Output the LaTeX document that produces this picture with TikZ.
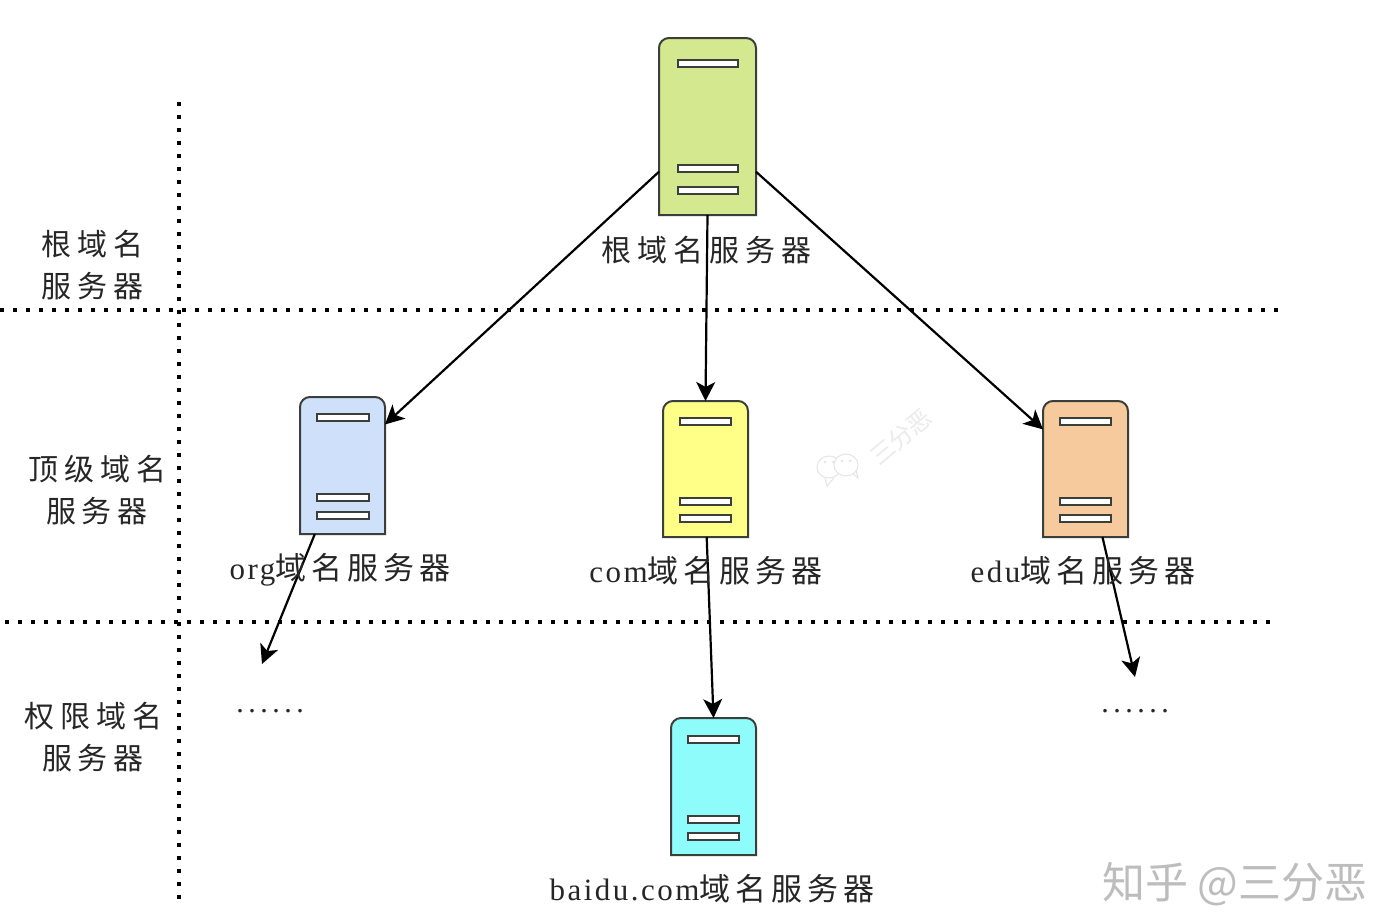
\documentclass[tikz,border=0pt]{standalone}
\usepackage{fontspec}
\setmainfont[LetterSpace=8]{Liberation Serif}
\newfontfamily\cjk[LetterSpace=20]{Noto Sans CJK SC}
\newfontfamily\cjkb[LetterSpace=16]{Noto Sans CJK SC}
\newfontfamily\wmfont{Noto Sans CJK SC}
\newfontfamily\dotfont[LetterSpace=15]{Liberation Serif}
\usetikzlibrary{arrows.meta}
\definecolor{edgeC}{HTML}{3A3F3A}
\definecolor{rootC}{HTML}{D4E890}
\definecolor{orgC}{HTML}{CFE0FA}
\definecolor{comC}{HTML}{FFFF88}
\definecolor{eduC}{HTML}{F6CA9C}
\definecolor{baiduC}{HTML}{8FFCFC}
\tikzset{
 x=1pt,y=-1pt,
 bodybox/.style={inner sep=0pt,outer sep=0pt,draw=none,rectangle},
 srvline/.style={draw=edgeC,line width=2pt},
 link/.style={draw=black,line width=2.2pt,-{Stealth[length=19pt,width=19pt,inset=5pt]}},
 sep/.style={draw=black,line width=3.6pt,dash pattern=on 3.6pt off 9.4pt},
 label/.style={inner sep=0pt,font=\fontsize{30}{42}\selectfont\cjk,text=black!85,align=center},
 labelx/.style={inner sep=0pt,font=\fontsize{31}{42}\selectfont,text=black!85,anchor=base},
 dots/.style={inner sep=0pt,font=\fontsize{30}{30}\selectfont\dotfont,text=black!85},
 wm/.style={inner sep=0pt,text=black!26,font=\fontsize{43}{43}\selectfont\wmfont},
 wmsmall/.style={inner sep=0pt,text=black!8,font=\fontsize{24}{24}\selectfont\wmfont},
}
% name, x0, y0, x1, y1, fill, barinset, bar y1, y2, y3
\newcommand{\srv}[9]{%
 \def\srvN{#1}\def\xa{#2}\def\ya{#3}\def\xb{#4}\def\yb{#5}\def\colr{#6}\def\ins{#7}%
 \node[bodybox,minimum width={(\xb-\xa)*1pt},minimum height={(\yb-\ya)*1pt}] (\srvN) at ({(\xa+\xb)/2},{(\ya+\yb)/2}) {};
 \path[srvline,fill=\colr] (\xa,\yb) -- (\xa,\ya+10) arc[start angle=180,end angle=90,radius=10pt] -- (\xb-10,\ya) arc[start angle=90,end angle=0,radius=10pt] -- (\xb,\yb) -- cycle;
 \foreach \yy in {#8,#9}{
  \path[srvline,fill=white] (\xa+\ins,\yy-3.5) rectangle (\xb-\ins,\yy+3.5);
 }
}
\begin{document}
\begin{tikzpicture}
\useasboundingbox (0,0) rectangle (1384,922);
\fill[white] (0,0) rectangle (1384,922);
% separators
\coordinate (h1a) at (0,310); \coordinate (h1b) at (1280,310);
\coordinate (h2a) at (5,622); \coordinate (h2b) at (1270,622);
\coordinate (va) at (179,102); \coordinate (vb) at (179,900);
\draw[sep] (h1a) -- (h1b);
\draw[sep] (h2a) -- (h2b);
\draw[sep] (va) -- (vb);
% servers
\srv{root}{659}{38}{756}{215}{rootC}{18.5}{63,168}{190}
\srv{org}{300}{397}{385}{534}{orgC}{16.5}{417,497}{515}
\srv{com}{663}{401}{748}{537}{comC}{17}{421,501}{518}
\srv{edu}{1043}{401}{1128}{537}{eduC}{17}{421,501}{518}
\srv{baidu}{671}{718}{756}{855}{baiduC}{17}{739,819}{836}
% free ends
\coordinate (orgend) at (262,664);
\coordinate (eduend) at (1135,677);
% connectors
\draw[link] (root.223) -- (org.44);
\draw[link] (root.south) -- (com.north);
\draw[link] (root.317) -- (edu.137.5);
\draw[link] (org.248) -- (orgend);
\draw[link] (com.271) -- (baidu.north);
\draw[link] (edu.284) -- (eduend);
% labels
\node[label] (l1) at (92,265) {根域名\\[0pt]服务器};
\node[label] (l2) at (97,490) {顶级域名\\[0pt]服务器};
\node[label] (l3) at (93,737) {权限域名\\[0pt]服务器};
\node[label] (rootl) at (706,250) {根域名服务器};
\node[labelx] (orgl) at (340,579) {org{\cjkb 域名服务器}};
\node[labelx] (coml) at (706,582) {com{\cjkb 域名服务器}};
\node[labelx] (edul) at (1083,582) {edu{\cjkb 域名服务器}};
\node[labelx] (baidul) at (712,900) {baidu.com{\cjkb 域名服务器}};
\node[dots] (d1) at (270,711) {......};
\node[dots] (d2) at (1135,711) {......};
% watermarks
\begin{scope}[draw=black!10,line width=1pt]
\draw[fill=white] (825,478) -- (827,486) -- (834,478);
\draw[fill=white] (829,467) ellipse[x radius=12pt,y radius=11pt];
\draw[fill=white] (853,474) -- (858,478) -- (856,470);
\draw[fill=white] (846,465) ellipse[x radius=12pt,y radius=11pt];
\fill[black!10] (825,462) circle[radius=1.3pt] (833,462) circle[radius=1.3pt] (842,461) circle[radius=1.3pt] (850,461) circle[radius=1.3pt];
\end{scope}
\node[wmsmall,rotate=40] (wm2) at (901,437) {三分恶};
\node[wm] (wm1) at (1235,884) {知乎 @三分恶};
\end{tikzpicture}
\end{document}
